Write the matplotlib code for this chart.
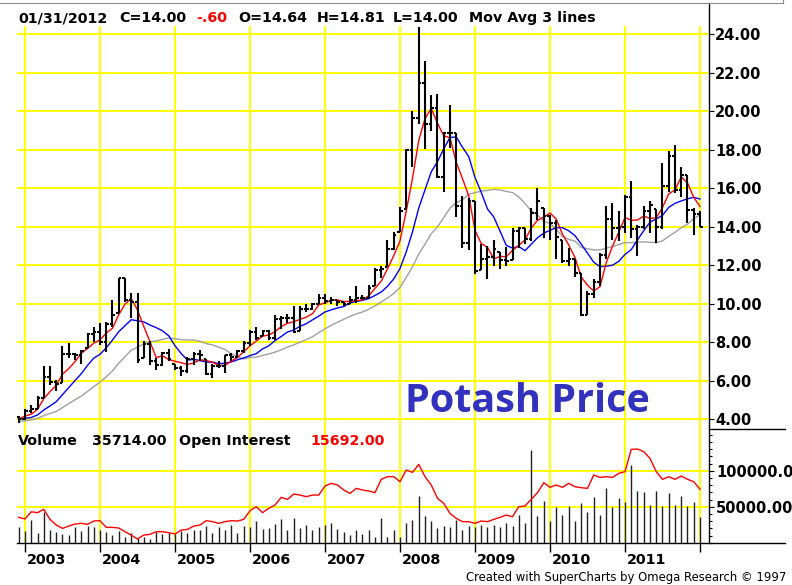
import numpy as np
import pandas as pd
import matplotlib
matplotlib.use('Agg')
import matplotlib.pyplot as plt
from matplotlib.lines import Line2D
from matplotlib.ticker import MultipleLocator

# ---------------- data: monthly bars Dec 2002 .. Jan 2012 ----------------
months = pd.period_range('2002-12', '2012-01', freq='M')

open_ = [
    4.10,                                                                          # Dec 2002
    4.00, 4.40, 4.50, 5.10, 6.20, 5.90, 5.85, 7.40, 7.40, 7.30, 7.70, 8.40,        # 2003
    8.50, 8.00, 8.95, 9.50, 11.30, 10.20, 10.10, 7.15, 7.90, 7.00, 6.80, 7.45,     # 2004
    6.85, 6.65, 6.50, 7.10, 7.40, 7.10, 6.35, 6.75, 6.75, 7.30, 7.20, 7.55,        # 2005
    7.95, 8.50, 8.30, 8.55, 8.20, 9.20, 9.25, 9.25, 8.55, 9.70, 9.70, 10.00,       # 2006
    10.30, 10.15, 10.20, 10.10, 9.95, 10.20, 10.30, 10.30, 10.90, 11.75, 11.90, 12.85,  # 2007
    13.70, 14.90, 18.00, 19.65, 21.45, 19.30, 20.15, 16.55, 18.87, 18.85, 15.05, 13.15,  # 2008
    15.30, 11.75, 12.30, 12.40, 12.70, 12.25, 12.25, 13.75, 13.90, 13.35, 14.70, 14.95,  # 2009
    14.55, 14.20, 13.30, 12.20, 12.30, 11.60, 9.40, 10.50, 11.10, 12.50, 14.40, 13.90,   # 2010
    14.00, 15.55, 13.85, 13.95, 14.80, 14.90, 13.95, 16.10, 17.65, 15.90, 16.65, 14.85,  # 2011
    14.64,                                                                         # Jan 2012
]
high = [
    4.15,
    4.50, 4.75, 5.20, 6.75, 6.75, 6.05, 7.80, 7.95, 7.45, 7.60, 8.45, 8.80,
    9.00, 9.05, 10.20, 11.35, 11.30, 10.55, 10.55, 8.05, 8.05, 7.15, 7.50, 7.65,
    6.85, 6.75, 7.20, 7.50, 7.60, 7.10, 6.85, 7.00, 7.35, 7.45, 7.60, 8.05,
    8.60, 8.80, 8.60, 8.60, 9.40, 9.35, 9.45, 9.85, 9.85, 9.95, 10.05, 10.50,
    10.50, 10.35, 10.20, 10.10, 10.40, 10.90, 10.45, 10.95, 11.85, 11.95, 13.30, 13.70,
    15.00, 18.05, 20.00, 24.35, 22.60, 20.85, 20.90, 18.90, 20.30, 18.85, 15.60, 15.50,
    15.35, 13.10, 13.00, 13.30, 12.70, 12.95, 13.90, 14.00, 13.90, 14.95, 16.00, 14.95,
    14.60, 14.35, 13.30, 12.90, 12.30, 11.60, 10.65, 11.25, 12.60, 15.05, 15.20, 14.80,
    15.65, 16.35, 14.10, 15.05, 15.30, 14.90, 17.30, 17.90, 18.25, 17.10, 16.70, 14.95,
    14.81,
]
low = [
    3.80,
    3.97, 4.30, 4.50, 5.10, 5.75, 5.45, 5.85, 7.15, 7.05, 6.85, 7.70, 8.00,
    7.85, 7.50, 8.80, 9.50, 10.10, 9.25, 6.90, 7.15, 6.80, 6.55, 6.75, 7.00,
    6.55, 6.25, 6.40, 6.80, 7.00, 6.30, 6.15, 6.65, 6.40, 7.00, 7.15, 7.45,
    7.80, 8.10, 8.30, 8.10, 8.10, 8.70, 9.00, 8.45, 8.55, 9.55, 9.65, 9.95,
    9.95, 9.95, 9.85, 9.85, 9.95, 10.05, 10.20, 10.30, 10.90, 11.30, 11.90, 12.80,
    13.70, 14.90, 17.10, 19.30, 18.05, 18.95, 16.50, 15.80, 18.10, 14.50, 12.90, 12.80,
    11.55, 11.75, 11.25, 11.95, 11.80, 11.95, 12.25, 12.90, 13.10, 13.25, 14.35, 13.40,
    13.30, 12.30, 12.10, 11.95, 11.40, 9.35, 9.40, 10.30, 10.90, 12.30, 13.30, 13.25,
    13.65, 13.40, 12.45, 13.85, 13.65, 13.15, 13.85, 15.80, 15.75, 15.55, 14.20, 13.55,
    14.00,
]
close = [
    4.00,
    4.40, 4.50, 5.10, 6.20, 5.90, 5.80, 7.40, 7.40, 7.30, 7.55, 8.40, 8.50,
    8.00, 8.95, 9.42, 11.30, 10.20, 10.10, 7.05, 7.90, 7.00, 6.80, 7.45, 7.10,
    6.65, 6.50, 7.10, 7.40, 7.30, 6.35, 6.75, 6.75, 7.30, 7.20, 7.55, 7.95,
    8.50, 8.20, 8.55, 8.20, 9.20, 9.25, 9.25, 8.50, 9.70, 9.70, 10.00, 10.30,
    10.15, 10.20, 10.10, 9.95, 10.20, 10.30, 10.30, 10.80, 11.75, 11.80, 12.85, 13.55,
    14.80, 18.00, 19.65, 21.45, 19.30, 20.15, 16.55, 18.87, 18.87, 15.05, 13.15, 15.30,
    11.70, 12.30, 12.40, 12.85, 12.25, 12.20, 13.75, 13.90, 13.35, 14.70, 15.35, 14.55,
    14.20, 13.45, 12.20, 12.30, 11.60, 9.40, 10.50, 11.10, 12.50, 14.40, 13.90, 14.00,
    15.55, 13.85, 13.95, 14.80, 15.10, 13.95, 16.10, 17.65, 15.90, 16.65, 14.85, 14.65,
    14.00,
]
# closes before the visible window (Jul 2001 - Nov 2002), only used to start the
# averages; estimated from where the three MA lines begin on the left edge
prior_close = [3.7, 3.8, 3.6, 3.7, 3.8, 3.9, 3.8, 3.7, 3.8,
               4.0, 4.1, 3.9, 3.9, 4.0, 3.8, 4.1, 4.1]

volume = [
    21300,
    16700, 31500, 13000, 43000, 17600, 15300, 12000, 10600, 21300, 16700, 23000, 21300,
    17600, 15300, 10600, 16700, 7400, 13000, 6000, 8300, 5100, 15300, 12000, 13900,
    12000, 16700, 13900, 17600, 17600, 23000, 13000, 21300, 17600, 24500, 13000, 23000,
    21300, 30500, 18500, 19900, 25900, 32400, 17600, 33800, 19900, 24500, 17600, 21300,
    24500, 27800, 18500, 15300, 10600, 17600, 12000, 17600, 8300, 33800, 8300, 17600,
    7400, 26900, 31500, 64800, 37000, 30500, 19900, 23100, 21300, 31500, 17600, 23100,
    21300, 24500, 21300, 24500, 21300, 26900, 23100, 38400, 26900, 128700, 37000, 57900,
    30500, 49100, 38400, 50900, 30100, 54600, 42600, 63000, 38400, 75500, 49100, 61600,
    56900, 107900, 71800, 69900, 52300, 71800, 50900, 68500, 52300, 64800, 50900, 56500,
    35714,
]
open_int = [
    35200,
    32900, 43000, 41700, 46300, 32400, 24500, 19900, 23100, 25900, 26900, 25500, 30100,
    30600, 21300, 21300, 20400, 15300, 10600, 5100, 10600, 11600, 15300, 15300, 13900,
    12000, 17600, 18500, 23100, 24500, 30600, 29200, 26900, 29200, 30600, 30100, 32400,
    44400, 50000, 41700, 47700, 52300, 63000, 60200, 67600, 66200, 63900, 66200, 66200,
    78700, 82400, 80100, 73200, 68500, 75500, 73200, 71800, 69500, 88000, 91700, 91700,
    84700, 100900, 97700, 108800, 91700, 80100, 61600, 54600, 40700, 33800, 29200, 29200,
    26900, 30100, 29200, 32400, 35200, 38400, 36100, 50000, 50900, 60200, 69500, 83300,
    76900, 80100, 76900, 82400, 77800, 76400, 75500, 94000, 90700, 91700, 90700, 96300,
    98600, 129600, 130100, 126400, 117100, 98600, 88000, 91700, 88000, 92600, 88000, 84700,
    74100,
]

years = [2003, 2004, 2005, 2006, 2007, 2008, 2009, 2010, 2011, 2012]
year_labels = ['2003', '2004', '2005', '2006', '2007', '2008', '2009', '2010', '2011', '']
price_ticks = [4, 6, 8, 10, 12, 14, 16, 18, 20, 22, 24]
vol_ticks = [50000, 100000]

# ---------------- derived ----------------
x = np.array([(p.year - 2003) * 12 + p.month - 1 for p in months])
year_pos = [(y - 2003) * 12 for y in years]

full = pd.Series(prior_close + close)
n0 = len(prior_close)
ma_fast = full.rolling(4).mean().iloc[n0:].values
ma_mid = full.rolling(9).mean().iloc[n0:].values
ma_slow = full.rolling(18).mean().iloc[n0:].values

# ---------------- figure ----------------
plt.rcParams['font.family'] = 'DejaVu Sans'
plt.rcParams['font.weight'] = 'bold'

W, H = 792, 585
fig = plt.figure(figsize=(W / 100, H / 100), dpi=100)
fig.patch.set_facecolor('white')

def fx(px):
    return px / W

def fy(py):
    return 1 - py / H

ax = fig.add_axes([fx(17), fy(429), fx(709) - fx(17), fy(26) - fy(429)])
vax = fig.add_axes([fx(17), fy(542.7), fx(709) - fx(17), fy(429) - fy(542.7)])

yellow = '#ffff00'
for a in (ax, vax):
    a.set_xlim(-1.28, 109.44)
    for s in a.spines.values():
        s.set_visible(False)
    a.patch.set_alpha(0)
    for yp in year_pos:
        a.axvline(yp, color=yellow, lw=1.4, zorder=0)

# price panel
ax.set_ylim(3.481, 24.416)
for p in price_ticks:
    ax.axhline(p, color=yellow, lw=1.4, zorder=0)

ax.plot(x, ma_slow, color='#a0a0a0', lw=1.0, zorder=2)
ax.plot(x, ma_mid, color='#0000ff', lw=1.0, zorder=2)
ax.plot(x, ma_fast, color='#ff0000', lw=1.0, zorder=3)

ax.vlines(x, low, high, color='black', lw=1.5, zorder=4)
ax.hlines(open_, x - 0.42, x, color='black', lw=1.5, zorder=4)
ax.hlines(close, x, x + 0.42, color='black', lw=1.5, zorder=4)

ax.set_xticks([])
ax.yaxis.tick_right()
ax.set_yticks(price_ticks)
ax.set_yticklabels([f'{p:.2f}' for p in price_ticks])
ax.tick_params(axis='y', direction='out', length=3.6, width=0.8, pad=0.8,
               labelsize=10.5, colors='black')

# volume panel
vax.set_ylim(0, 157917)
for v in vol_ticks:
    vax.axhline(v, color=yellow, lw=1.4, zorder=0)
vax.vlines(x, 0, volume, color='#202020', lw=1.0, zorder=2)
vax.plot(x, open_int, color='#ff0000', lw=1.0, zorder=3)

vax.yaxis.tick_right()
vax.set_yticks(vol_ticks)
vax.set_yticklabels([f'{v:.2f}' for v in vol_ticks])
vax.yaxis.set_minor_locator(MultipleLocator(10000))
vax.tick_params(axis='y', which='major', direction='out', length=3.6, width=0.8,
                pad=1.5, labelsize=10.5)
vax.tick_params(axis='y', which='minor', direction='out', length=2.2, width=0.8)
vax.set_xticks(year_pos)
vax.set_xticklabels([])
vax.tick_params(axis='x', direction='out', length=6.5, width=1.0)

for yp, lab in zip(year_pos, year_labels):
    vax.text(yp + 0.25, -0.187, lab, transform=vax.get_xaxis_transform(),
             ha='left', va='baseline', fontsize=10.3)

# frame lines
line_kw = dict(color='black', lw=1.0)
fig.add_artist(Line2D([fx(709), fx(709)], [fy(3), fy(542.7)], **line_kw))
fig.add_artist(Line2D([fx(709), fx(785)], [fy(429), fy(429)], **line_kw))
fig.add_artist(Line2D([fx(17), fx(785)], [fy(542.7), fy(542.7)], **line_kw))
fig.add_artist(Line2D([0, fx(783)], [fy(2.5), fy(2.5)], color='#8a8a8a', lw=0.8))
fig.add_artist(Line2D([fx(783), fx(783)], [fy(0), fy(2.5)], color='#8a8a8a', lw=0.8))

# header line
hdr = [(18, '01/31/2012', 'black'), (119, 'C=14.00', 'black'), (196, '-.60', '#ff0000'),
       (238, 'O=14.64', 'black'), (317, 'H=14.81', 'black'), (393, 'L=14.00', 'black'),
       (469, 'Mov Avg 3 lines', 'black')]
for px, txt, col in hdr:
    fig.text(fx(px), fy(22), txt, color=col, fontsize=10.3, ha='left', va='baseline')

vol_hdr = [(18, 'Volume', 'black'), (92, '35714.00', 'black'),
           (179, 'Open Interest', 'black'), (310, '15692.00', '#ff0000')]
for px, txt, col in vol_hdr:
    fig.text(fx(px), fy(445), txt, color=col, fontsize=10.3, ha='left', va='baseline')

fig.text(fx(405), fy(412), 'Potash Price', color='#3232be', fontsize=28.5,
         family='Open Sans', weight='bold', ha='left', va='baseline')

fig.text(fx(786), fy(581), 'Created with SuperCharts by Omega Research \u00a9 1997',
         fontsize=8.4, weight='normal', ha='right', va='baseline', color='black')

fig.savefig('out.png', dpi=100)
